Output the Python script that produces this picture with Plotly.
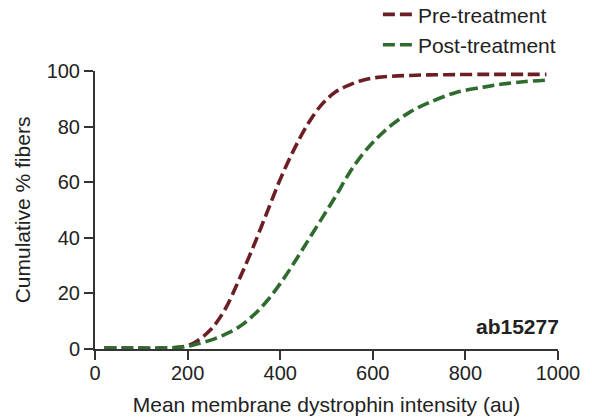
import plotly.graph_objects as go

intensity = [20, 60, 100, 140, 180, 200, 220, 250, 280, 310, 340, 370, 400, 430, 460,
             490, 520, 550, 580, 610, 640, 680, 720, 780, 840, 880, 930, 975]
pre_treatment = [0.3, 0.3, 0.3, 0.3, 0.6, 1.2, 2.8, 7, 14, 24.5, 36, 48.5, 61, 71.8, 81,
                 88, 92.5, 95, 96.8, 97.7, 98.1, 98.4, 98.6, 98.7, 98.8, 98.8, 98.8, 98.8]
post_treatment = [0.3, 0.3, 0.3, 0.3, 0.6, 1, 1.8, 3.2, 5.2, 7.8, 11.8, 17, 23.5, 31, 39,
                  47, 55, 63.5, 70.5, 76, 80.5, 85.2, 88.5, 92.3, 94.2, 95.3, 96.2, 96.7]

x_ticks = [0, 200, 400, 600, 800, 1000]
y_ticks = [0, 20, 40, 60, 80, 100]

RED = "#6B1E24"
GREEN = "#2F6B2F"
FONT = "Liberation Sans, Arial, sans-serif"

fig = go.Figure()
fig.add_trace(go.Scatter(x=intensity, y=pre_treatment, mode="lines", name="Pre-treatment",
                         line=dict(color=RED, width=3.6, dash="12px,5px", shape="spline")))
fig.add_trace(go.Scatter(x=intensity, y=post_treatment, mode="lines", name="Post-treatment",
                         line=dict(color=GREEN, width=3.6, dash="12px,5px", shape="spline")))

fig.update_layout(
    width=592, height=419,
    margin=dict(l=95, r=34, t=71, b=70, autoexpand=False),
    paper_bgcolor="white", plot_bgcolor="white",
    font=dict(family=FONT, size=20, color="#222222"),
    showlegend=True,
    legend=dict(x=0.611, xanchor="left", y=1.276, yanchor="top",
                font=dict(size=21, color="#222222"),
                bgcolor="rgba(0,0,0,0)", tracegroupgap=0),
    xaxis=dict(range=[0, 1000], tickvals=x_ticks, ticks="outside", ticklen=9, tickwidth=2,
               tickcolor="#333333", showline=True, linecolor="#333333", linewidth=2,
               showgrid=False, zeroline=False, automargin=False,
               tickfont=dict(size=20), ticklabelstandoff=-4,
               title=dict(text="Mean membrane dystrophin intensity (au)", font=dict(size=21),
                          standoff=14)),
    yaxis=dict(range=[0, 100], tickvals=y_ticks, ticks="outside", ticklen=9, tickwidth=2,
               tickcolor="#333333", showline=True, linecolor="#333333", linewidth=2,
               showgrid=False, zeroline=False, automargin=False,
               tickfont=dict(size=20),
               title=dict(text="Cumulative % fibers", font=dict(size=21), standoff=10)),
    annotations=[dict(text="<b>ab15277</b>", x=1.0, xref="paper", xanchor="right", xshift=3,
                      y=0.08, yref="paper", yanchor="middle", showarrow=False,
                      font=dict(size=21, color="#222222"))],
)

fig.write_html("out.html")
